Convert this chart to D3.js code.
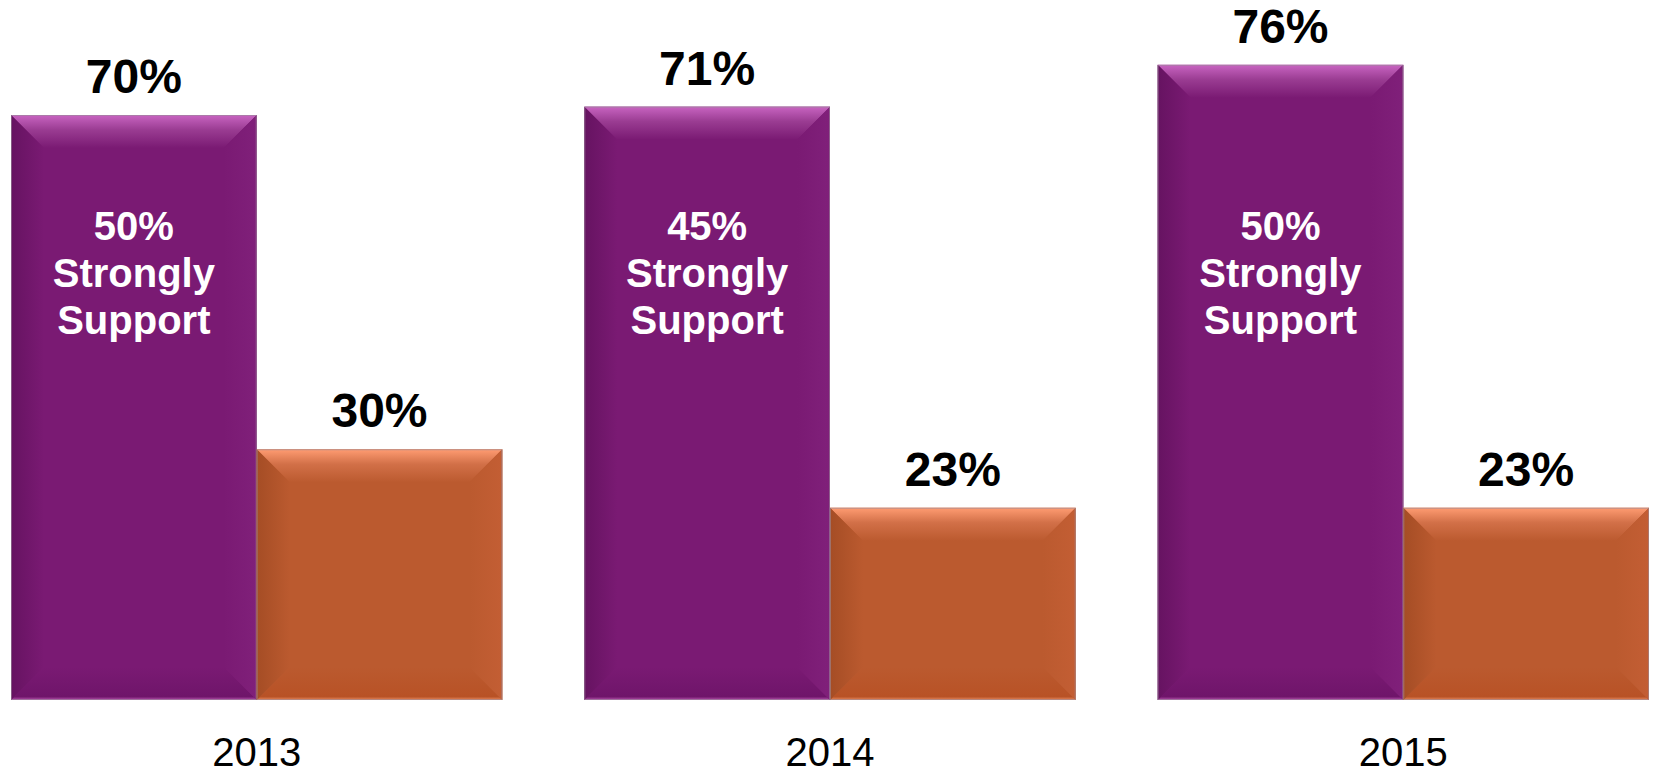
<!DOCTYPE html>
<html>
<head>
<meta charset="utf-8">
<script src="https://cdn.jsdelivr.net/npm/d3@7"></script>
<style>
  body { margin: 0; background: #fff; }
  svg { display: block; font-family: Arial, "Liberation Sans", sans-serif; }
</style>
</head>
<body>
<div id="chart"></div>
<script>
// data
var years = ["2013", "2014", "2015"];
var seriesKeys = ["support", "oppose"];
var supportValues = [70, 71, 76];
var stronglyValues = [50, 45, 50];
var opposeValues = [30, 23, 23];

var width = 1653, height = 773;
var bevel = 33;

var palette = {
  support: { base: "#7a1a73", top: "#c864c1", topMid: "#9a3c92", left: "#661361", right: "#80207a", bottom: "#6f156a", edge: "#b552ad" },
  oppose:  { base: "#bb5a2f", top: "#ff9c72", topMid: "#d27048", left: "#a54d25", right: "#c35e34", bottom: "#b85226", edge: "#e88a5f" }
};

var rows = years.map(function(yr, i) {
  return { year: yr, support: supportValues[i], oppose: opposeValues[i], strongly: stronglyValues[i] };
});

var svg = d3.select("#chart").append("svg")
    .attr("width", width)
    .attr("height", height);

var x0 = d3.scaleBand().domain(years).range([11, 1649]).paddingInner(0.143).paddingOuter(0);
var x1 = d3.scaleBand().domain(seriesKeys).range([0, x0.bandwidth()]).padding(0);
var y = d3.scaleLinear().domain([0, 100]).range([700, -135.7]);

var defs = svg.append("defs");

function grad(id, x1_, y1_, x2_, y2_, stops) {
  var g = defs.append("linearGradient").attr("id", id)
    .attr("x1", x1_).attr("y1", y1_).attr("x2", x2_).attr("y2", y2_);
  stops.forEach(function(s) {
    g.append("stop").attr("offset", s[0]).attr("stop-color", s[1]);
  });
}

seriesKeys.forEach(function(k) {
  var p = palette[k];
  grad("top-" + k, 0, 0, 0, 1, [[0, p.top], [0.45, p.topMid], [1, p.base]]);
  grad("left-" + k, 0, 0, 1, 0, [[0, p.left], [1, p.base]]);
  grad("right-" + k, 0, 0, 1, 0, [[0, p.base], [1, p.right]]);
  grad("bottom-" + k, 0, 0, 0, 1, [[0, p.base], [0.9, p.bottom], [1, p.edge]]);
});

var groups = svg.selectAll("g.year")
  .data(rows)
  .enter().append("g")
    .attr("class", "year")
    .attr("transform", function(d) { return "translate(" + x0(d.year) + ",0)"; });

var bars = groups.selectAll("g.bar")
  .data(function(d) {
    return seriesKeys.map(function(k) { return { key: k, value: d[k], row: d }; });
  })
  .enter().append("g")
    .attr("class", "bar");

bars.each(function(d) {
  var g = d3.select(this);
  var bx = x1(d.key), bw = x1.bandwidth();
  var top = y(d.value), bot = y(0);
  var b = Math.min(bevel, (bot - top) / 2);
  var L = bx, R = bx + bw;

  g.append("rect")
    .attr("x", L).attr("y", top)
    .attr("width", bw).attr("height", bot - top)
    .attr("fill", palette[d.key].base);

  g.append("polygon")
    .attr("points", [[L, top], [R, top], [R - b, top + b], [L + b, top + b]].join(" "))
    .attr("fill", "url(#top-" + d.key + ")");
  g.append("polygon")
    .attr("points", [[L, bot], [R, bot], [R - b, bot - b], [L + b, bot - b]].join(" "))
    .attr("fill", "url(#bottom-" + d.key + ")");
  g.append("polygon")
    .attr("points", [[L, top], [L + b, top + b], [L + b, bot - b], [L, bot]].join(" "))
    .attr("fill", "url(#left-" + d.key + ")");
  g.append("polygon")
    .attr("points", [[R, top], [R - b, top + b], [R - b, bot - b], [R, bot]].join(" "))
    .attr("fill", "url(#right-" + d.key + ")");

  g.append("rect")
    .attr("x", L + 0.5).attr("y", top + 0.5)
    .attr("width", bw - 1).attr("height", bot - top - 1)
    .attr("fill", "none")
    .attr("stroke", "#9a8a9a")
    .attr("stroke-opacity", 0.6)
    .attr("stroke-width", 1);

  // value label above the bar
  g.append("text")
    .attr("x", bx + bw / 2)
    .attr("y", top - 22)
    .attr("text-anchor", "middle")
    .attr("font-size", 48)
    .attr("font-weight", "bold")
    .attr("fill", "#000")
    .text(d.value + "%");
});

// "Strongly Support" labels inside the purple bars
var inner = groups.append("text")
  .attr("text-anchor", "middle")
  .attr("font-size", 40)
  .attr("font-weight", "bold")
  .attr("fill", "#fff");

inner.each(function(d) {
  var t = d3.select(this);
  var cx = x1("support") + x1.bandwidth() / 2;
  [d.strongly + "%", "Strongly", "Support"].forEach(function(line, i) {
    t.append("tspan").attr("x", cx).attr("y", 240 + i * 47).text(line);
  });
});

// year axis
var xAxis = d3.axisBottom(x0).tickSize(0).tickPadding(0);
var axisG = svg.append("g")
  .attr("class", "axis")
  .attr("transform", "translate(0,737)")
  .call(xAxis);
axisG.select(".domain").remove();
axisG.selectAll("text")
  .attr("dy", "0.73em")
  .attr("font-size", 40)
  .attr("font-family", "Arial, 'Liberation Sans', sans-serif")
  .attr("fill", "#000");
</script>
</body>
</html>
